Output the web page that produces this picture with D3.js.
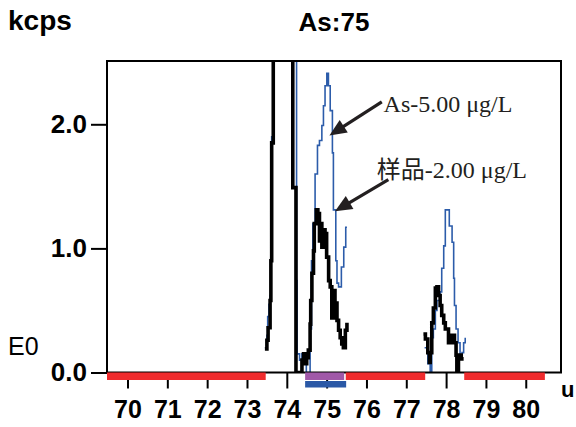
<!DOCTYPE html>
<html>
<head>
<meta charset="utf-8">
<script src="https://cdn.jsdelivr.net/npm/d3@7"></script>
<style>
  body { margin: 0; background: #fff; }
  svg { display: block; }
</style>
</head>
<body>
<div id="chart"></div>
<script>
// mass ticks (u) and intensity ticks (kcps)
const massTicks = [70, 71, 72, 73, 74, 75, 76, 77, 78, 79, 80];
const kcpsTicks = [0, 1, 2];

// As-5.00 standard scan, [mass, kcps] per channel (step)
const standardScan1 = [
  [73.45, 0.20], [73.50, 0.30], [73.52, 0.45], [73.55, 0.55], [73.58, 0.62],
  [73.60, 0.95], [73.62, 1.90], [73.66, 3.3], [73.70, 4.6], [73.80, 6.1],
  [73.90, 6.6], [74.00, 5.6], [74.08, 3.6], [74.15, 2.6], [74.245, 0.74],
  [74.26, 0.15], [74.32, 0.10], [74.38, 0.15], [74.44, 0.07], [74.49, 0.0],
  [74.585, 0.35], [74.62, 0.90], [74.653, 1.20], [74.71, 1.60], [74.77, 1.83],
  [74.82, 1.87], [74.88, 1.99], [74.92, 2.15], [74.96, 2.31], [75.005, 2.41],
  [75.045, 2.31], [75.09, 2.11], [75.145, 1.77], [75.17, 1.31], [75.23, 0.90],
  [75.26, 0.72], [75.30, 0.69], [75.37, 0.85], [75.43, 1.01], [75.48, 1.17],
  [75.51, 1.17]
];
const standardScan2 = [
  [77.46, 0.20], [77.54, 0.07], [77.60, 0.0], [77.64, 0.28], [77.68, 0.35],
  [77.73, 0.50], [77.77, 0.58], [77.85, 0.65], [77.89, 0.84], [77.94, 1.02],
  [77.98, 1.31], [78.08, 1.18], [78.15, 1.05], [78.19, 0.76], [78.21, 0.54],
  [78.25, 0.35], [78.30, 0.24], [78.35, 0.14], [78.40, 0.16], [78.44, 0.24],
  [78.48, 0.28]
];

// sample-2.00 scan
const sampleScan1 = [
  [73.45, 0.19], [73.50, 0.26], [73.53, 0.36], [73.58, 0.58], [73.60, 0.90],
  [73.62, 1.85], [73.66, 3.2], [73.70, 4.5], [73.80, 6.0], [73.90, 6.5],
  [74.00, 5.5], [74.08, 3.5], [74.15, 1.49], [74.23, 0.0], [74.38, 0.10],
  [74.42, 0.15], [74.46, 0.07], [74.50, 0.12], [74.54, 0.18], [74.585, 0.39],
  [74.60, 0.58], [74.63, 0.80], [74.67, 0.98], [74.69, 1.20], [74.74, 1.31],
  [74.78, 1.28], [74.82, 1.06], [74.85, 1.20], [74.88, 1.01], [74.92, 1.15],
  [74.96, 1.12], [75.00, 0.93], [75.05, 0.74], [75.09, 0.69], [75.13, 0.44],
  [75.17, 0.66], [75.21, 0.56], [75.26, 0.42], [75.30, 0.34], [75.34, 0.28],
  [75.38, 0.23], [75.42, 0.20], [75.47, 0.34], [75.51, 0.40]
];
const sampleScan2 = [
  [77.43, 0.31], [77.48, 0.27], [77.54, 0.16], [77.58, 0.08], [77.60, 0.16],
  [77.64, 0.40], [77.68, 0.52], [77.73, 0.68], [77.77, 0.69], [77.81, 0.62],
  [77.85, 0.54], [77.89, 0.46], [77.94, 0.40], [77.98, 0.35], [78.06, 0.24],
  [78.15, 0.30], [78.21, 0.24], [78.25, 0.14], [78.27, 0.0], [78.31, 0.14],
  [78.38, 0.11], [78.44, 0.11]
];

// mass windows along the axis
const skipRanges = [[69.485, 73.47], [75.48, 77.475], [78.455, 80.48]];
const peakRange = [74.46, 75.44];
const integRange = [74.46, 75.49];

// labels with arrows: text anchor, arrow tail and tip in [mass, kcps]
const notes = [
  { text: 'As-5.00 μg/L', at: [76.43, 2.10], tail: [76.385, 2.18], tip: [75.07, 1.91] },
  { text: '样品-2.00 μg/L', at: [76.26, 1.565], tail: [76.55, 1.555], tip: [75.21, 1.30] }
];

const box = { left: 107, top: 61, right: 561, bottom: 372.5 };
const w = 576, h = 427;

const svg = d3.select('#chart')
  .append('svg')
  .attr('width', w)
  .attr('height', h);

const x = d3.scaleLinear().domain([69.485, 80.885]).range([box.left, box.right]);
const y = d3.scaleLinear().domain([0, 2.51]).range([box.bottom, box.top]);

const sansBold = text => text
  .style('font-family', '"Liberation Sans", Arial, sans-serif')
  .style('font-weight', 'bold')
  .style('fill', '#000');

// titles
svg.append('text').text('kcps').attr('x', 8).attr('y', 30)
  .style('font-size', '28px').call(sansBold);
svg.append('text').text('As:75').attr('x', 334).attr('y', 31)
  .attr('text-anchor', 'middle')
  .style('font-size', '26px').call(sansBold);
svg.append('text').text('E0').attr('x', 8).attr('y', 355)
  .style('font-size', '25px')
  .style('font-family', '"Liberation Sans", Arial, sans-serif');
svg.append('text').text('u').attr('x', 561).attr('y', 397)
  .style('font-size', '22px').call(sansBold);

// axes
const xAxis = d3.axisBottom(x)
  .tickValues(massTicks)
  .tickFormat(d3.format('d'))
  .tickSize(16)
  .tickPadding(12);

const yAxis = d3.axisLeft(y)
  .tickValues(kcpsTicks)
  .tickFormat(d3.format('.1f'))
  .tickSize(16)
  .tickPadding(4);

const gx = svg.append('g')
  .attr('transform', `translate(0, ${box.bottom})`)
  .call(xAxis);
const gy = svg.append('g')
  .attr('transform', `translate(${box.left}, 0)`)
  .call(yAxis);

[gx, gy].forEach(g => {
  g.select('.domain').remove();
  g.selectAll('.tick line').attr('stroke', '#000').attr('stroke-width', 2);
  g.selectAll('.tick text').call(sansBold);
});
gx.selectAll('.tick text').style('font-size', '25px');
gy.selectAll('.tick text').style('font-size', '26px');

// scan lines, clipped to the frame
svg.append('clipPath').attr('id', 'plot-clip')
  .append('rect')
  .attr('x', box.left).attr('y', box.top)
  .attr('width', box.right - box.left).attr('height', box.bottom - box.top);

const line = d3.line()
  .x(d => x(d[0]))
  .y(d => y(d[1]))
  .curve(d3.curveStepAfter);

const plot = svg.append('g').attr('clip-path', 'url(#plot-clip)');

plot.selectAll('.standard')
  .data([standardScan1, standardScan2])
  .enter()
  .append('path')
  .attr('class', 'standard')
  .attr('d', line)
  .attr('fill', 'none')
  .attr('stroke', '#2c5caa')
  .attr('stroke-width', 1.6);

plot.selectAll('.sample')
  .data([sampleScan1, sampleScan2])
  .enter()
  .append('path')
  .attr('class', 'sample')
  .attr('d', line)
  .attr('fill', 'none')
  .attr('stroke', '#000')
  .attr('stroke-width', 3.6);

// frame
svg.append('rect')
  .attr('x', box.left).attr('y', box.top)
  .attr('width', box.right - box.left).attr('height', box.bottom - box.top)
  .attr('fill', 'none')
  .attr('stroke', '#000')
  .attr('stroke-width', 2);

// mass windows
svg.selectAll('.skip')
  .data(skipRanges)
  .enter()
  .append('rect')
  .attr('class', 'skip')
  .attr('x', d => x(d[0]))
  .attr('width', d => x(d[1]) - x(d[0]))
  .attr('y', box.bottom)
  .attr('height', 7.5)
  .attr('fill', '#ef2b2d');

svg.append('rect')
  .attr('x', x(peakRange[0]))
  .attr('width', x(peakRange[1]) - x(peakRange[0]))
  .attr('y', box.bottom)
  .attr('height', 7.5)
  .attr('fill', '#a058a8');

svg.append('rect')
  .attr('x', x(integRange[0]))
  .attr('width', x(integRange[1]) - x(integRange[0]))
  .attr('y', box.bottom + 8.5)
  .attr('height', 6.5)
  .attr('fill', '#2a58a6');

// annotations
const ann = svg.append('g');
notes.forEach(n => {
  const [x0, y0] = [x(n.tail[0]), y(n.tail[1])];
  const [x1, y1] = [x(n.tip[0]), y(n.tip[1])];
  const len = Math.hypot(x1 - x0, y1 - y0);
  const ux = (x1 - x0) / len, uy = (y1 - y0) / len;
  const head = 17, half = 7.5;
  const bx = x1 - ux * head, by = y1 - uy * head;

  ann.append('line')
    .attr('x1', x0).attr('y1', y0)
    .attr('x2', bx + ux * 2).attr('y2', by + uy * 2)
    .attr('stroke', '#231f20')
    .attr('stroke-width', 3.2);

  ann.append('path')
    .attr('d', `M${x1},${y1}L${bx - uy * half},${by + ux * half}L${bx + uy * half},${by - ux * half}Z`)
    .attr('fill', '#231f20');

  ann.append('text')
    .text(n.text)
    .attr('x', x(n.at[0]))
    .attr('y', y(n.at[1]))
    .style('font-family', '"Liberation Serif", "Times New Roman", "Noto Sans CJK SC", serif')
    .style('font-size', '24px')
    .style('fill', '#231f20');
});
</script>
</body>
</html>
